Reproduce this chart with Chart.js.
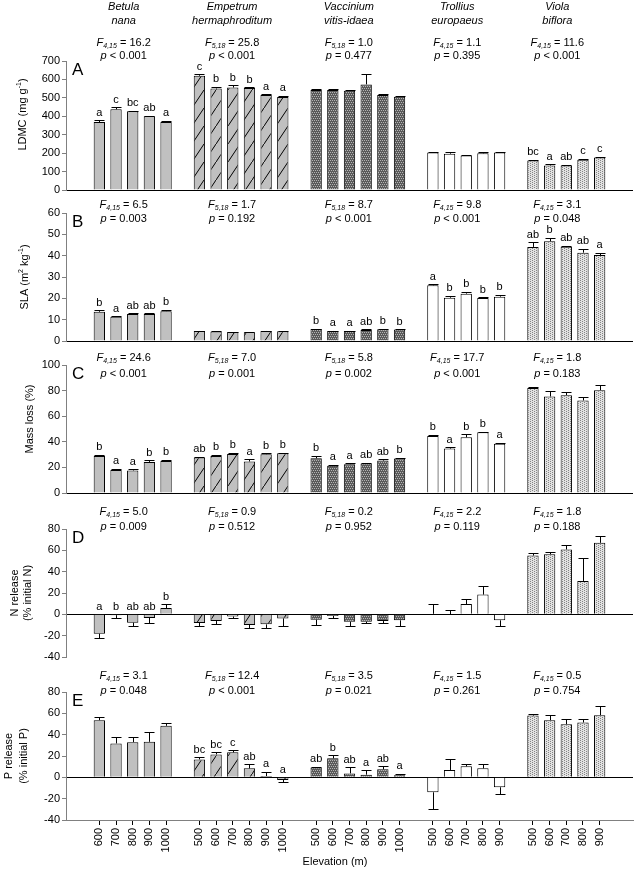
<!DOCTYPE html>
<html lang="en">
<head>
<meta charset="UTF-8">
<title>Leaf litter traits along elevation</title>
<script src="https://cdn.jsdelivr.net/npm/chart.js@4.4.1/dist/chart.umd.min.js"></script>
<style>
  html, body { margin: 0; padding: 0; background: #fff; }
  #wrap { position: relative; width: 636px; height: 871px; }
  #wrap canvas { position: absolute; left: 0; top: 0; }
</style>
</head>
<body>
<div id="wrap">
  <canvas id="panelA" width="636" height="871"></canvas>
  <canvas id="panelB" width="636" height="871"></canvas>
  <canvas id="panelC" width="636" height="871"></canvas>
  <canvas id="panelD" width="636" height="871"></canvas>
  <canvas id="panelE" width="636" height="871"></canvas>
</div>
<script>
// species and the elevations sampled for each
const speciesNames = [['Betula', 'nana'], ['Empetrum', 'hermaphroditum'], ['Vaccinium', 'vitis-idaea'], ['Trollius', 'europaeus'], ['Viola', 'biflora']];
const elevBetula = ['600', '700', '800', '900', '1000'];
const elevEmpetrum = ['500', '600', '700', '800', '900', '1000'];
const elevVaccinium = ['500', '600', '700', '800', '900', '1000'];
const elevTrollius = ['500', '600', '700', '800', '900'];
const elevViola = ['500', '600', '700', '800', '900'];
const dfs = ['4,15', '5,18', '5,18', '4,15', '4,15'];

// A - LDMC (mg g-1)
const ldmcMean = [369, 438, 428, 400, 369, 620, 551, 556, 553, 516, 505, 542, 542, 538, 573, 516, 506, 203, 197, 187, 199, 204, 160, 133, 133, 164, 176];
const ldmcSE = [9, 12, 3, 3, 8, 7, 10, 12, 4, 5, 6, 7, 7, 3, 54, 3, 3, 3, 10, 3, 5, 3, 5, 7, 4, 5, 4];
const ldmcLetters = ['a', 'c', 'bc', 'ab', 'a', 'c', 'b', 'b', 'b', 'a', 'a', '', '', '', '', '', '', '', '', '', '', '', 'bc', 'a', 'ab', 'c', 'c'];
const ldmcF = ['16.2', '25.8', '1.0', '1.1', '11.6'];
const ldmcP = ['< 0.001', '< 0.001', '= 0.477', '= 0.395', '< 0.001'];

// B - SLA (m2 kg-1)
const slaMean = [13.7, 11.4, 12.7, 12.7, 14.0, 4.7, 4.5, 4.2, 4.1, 4.7, 4.6, 5.6, 4.7, 4.7, 5.2, 5.5, 5.4, 26.1, 20.3, 22.2, 20.1, 20.8, 44.1, 46.7, 44.2, 41.4, 40.3];
const slaSE = [0.7, 0.3, 0.3, 0.3, 0.6, 0.2, 0.2, 0.2, 0.2, 0.2, 0.2, 0.2, 0.2, 0.2, 0.2, 0.2, 0.2, 0.4, 1.0, 0.8, 0.5, 0.8, 2.3, 1.8, 0.4, 1.8, 1.0];
const slaLetters = ['b', 'a', 'ab', 'ab', 'b', '', '', '', '', '', '', 'b', 'a', 'a', 'ab', 'b', 'b', 'a', 'b', 'b', 'b', 'b', 'ab', 'b', 'ab', 'ab', 'a'];
const slaF = ['6.5', '1.7', '8.7', '9.8', '3.1'];
const slaP = ['= 0.003', '= 0.192', '< 0.001', '< 0.001', '= 0.048'];

// C - mass loss (%)
const massMean = [29, 18, 17.6, 24.3, 25, 27.7, 29, 30.5, 24.6, 30.3, 31, 27.1, 21.2, 22.5, 23, 25.3, 26.9, 44.5, 34.7, 43.5, 47.4, 38.5, 82, 75.4, 76.4, 72.3, 80.3];
const massSE = [0.8, 1, 0.8, 1.5, 1, 0.6, 1, 1, 1.6, 0.6, 0.6, 2, 1, 0.6, 0.6, 1, 0.6, 1.2, 1.2, 2.6, 0.4, 0.8, 1, 4, 2.5, 2.5, 4];
const massLetters = ['b', 'a', 'a', 'b', 'b', 'ab', 'b', 'b', 'a', 'b', 'b', 'b', 'a', 'a', 'ab', 'ab', 'b', 'b', 'a', 'b', 'b', 'a', '', '', '', '', ''];
const massF = ['24.6', '7.0', '5.8', '17.7', '1.8'];
const massP = ['< 0.001', '= 0.001', '= 0.002', '< 0.001', '= 0.183'];

// D - N release (% initial N)
const nMean = [-18.2, -0.8, -7.8, -3.4, 5.9, -8.1, -6.3, -2.0, -10, -9.4, -3.8, -5, -1.5, -6.9, -6.9, -6.3, -5.6, 0.5, 0, 9.7, 18.5, -5.6, 55.1, 56.4, 60.8, 31.3, 67];
const nSE = [4, 2.3, 3.5, 5, 3.5, 2.6, 3, 1, 2.5, 3, 7, 5.3, 1.5, 4.5, 0.8, 1.8, 5, 9.2, 4.4, 4.7, 7.8, 5.4, 2.5, 2, 3.8, 21.6, 6];
const nLetters = ['a', 'b', 'ab', 'ab', 'b', '', '', '', '', '', '', '', '', '', '', '', '', '', '', '', '', '', '', '', '', '', ''];
const nF = ['5.0', '0.9', '0.2', '2.2', '1.8'];
const nP = ['= 0.009', '= 0.512', '= 0.952', '= 0.119', '= 0.188'];

// E - P release (% initial P)
const pMean = [53.6, 31.8, 33, 33.3, 48.3, 16.8, 21.5, 23.4, 8.4, 1.2, -2.5, 9.3, 17.8, 3.7, 2.5, 7.5, 1.9, -14, 6.9, 10.3, 8.4, -9.3, 57.9, 53.6, 49.8, 51.4, 58.3];
const pSE = [3.4, 6.2, 5, 8.8, 2.2, 2.2, 2.2, 2.1, 4, 4.1, 1.9, 0.5, 2.8, 6, 4, 2.8, 1.5, 15.9, 10.5, 1.8, 4.1, 6, 1.9, 4.7, 5.3, 3.7, 8.4];
const pLetters = ['', '', '', '', '', 'bc', 'bc', 'c', 'ab', 'a', 'a', 'ab', 'b', 'ab', 'a', 'ab', 'a', '', '', '', '', '', '', '', '', '', ''];
const pF = ['3.1', '12.4', '3.5', '1.5', '0.5'];
const pP = ['= 0.048', '< 0.001', '= 0.021', '= 0.261', '= 0.754'];

const FONT = "'Liberation Sans', Arial, sans-serif";

// build the x slots: two blanks on each side, one blank between species
const groups = [elevBetula, elevEmpetrum, elevVaccinium, elevTrollius, elevViola];
const slotLabels = ['', ''];
const slotGroup = [-1, -1];
const slotOfBar = [];
groups.forEach((g, gi) => {
    if (gi > 0) { slotLabels.push(''); slotGroup.push(-1); }
    g.forEach(e => { slotOfBar.push(slotLabels.length); slotLabels.push(e); slotGroup.push(gi); });
});
slotLabels.push('', '');
slotGroup.push(-1, -1);

function toSlots(arr) {
    const out = new Array(slotLabels.length).fill(null);
    slotOfBar.forEach((s, i) => { out[s] = arr[i]; });
    return out;
}

// fill patterns
function makePattern(w, h, paint) {
    const c = document.createElement('canvas');
    c.width = w; c.height = h;
    const g = c.getContext('2d');
    paint(g);
    return g.createPattern(c, 'repeat');
}
const hatch = makePattern(12, 18, g => {
    g.fillStyle = '#c0c0c0'; g.fillRect(0, 0, 12, 18);
    g.strokeStyle = '#000'; g.lineWidth = 1;
    g.beginPath(); g.moveTo(0, 18); g.lineTo(12, 0); g.stroke();
});
const checker = makePattern(4, 4, g => {
    g.fillStyle = '#5a5a5a'; g.fillRect(0, 0, 4, 4);
    g.fillStyle = '#b4b4b4';
    [[0, 0], [2, 0], [1, 2], [3, 2]].forEach(p => g.fillRect(p[0], p[1], 1, 1));
});
const stipple = makePattern(4, 4, g => {
    g.fillStyle = '#e2e2e2'; g.fillRect(0, 0, 4, 4);
    g.fillStyle = '#858585';
    [[0, 0], [2, 1], [0, 2], [2, 3]].forEach(p => g.fillRect(p[0], p[1], 1, 1));
});
const fills = ['#c0c0c0', hatch, checker, '#ffffff', stipple];
const slotFill = slotGroup.map(g => g < 0 ? 'rgba(0,0,0,0)' : fills[g]);

// little rich-text helper for italics, sub- and superscripts
function setFont(ctx, size, italic) { ctx.font = (italic ? 'italic ' : '') + size + 'px ' + FONT; }
function richWidth(ctx, segs) {
    let w = 0;
    segs.forEach(s => { setFont(ctx, s.sub || s.sup ? 7 : 11, s.it); w += ctx.measureText(s.t).width; });
    return w;
}
function drawRich(ctx, segs, cx, cy) {
    let x = cx - richWidth(ctx, segs) / 2;
    ctx.textAlign = 'left';
    ctx.textBaseline = 'middle';
    ctx.fillStyle = '#000';
    segs.forEach(s => {
        setFont(ctx, s.sub || s.sup ? 7 : 11, s.it);
        const dy = s.sub ? 3 : (s.sup ? -4 : 0);
        ctx.fillText(s.t, x, cy + dy);
        x += ctx.measureText(s.t).width;
    });
}

const panels = [
    { id: 'panelA', letter: 'A', mean: ldmcMean, se: ldmcSE, letters: ldmcLetters, F: ldmcF, P: ldmcP,
      min: 0, max: 700, step: 100, top: 61, bottom: 190, statY: [43, 56], species: true,
      title: [[{ t: 'LDMC (mg g' }, { t: '-1', sup: true }, { t: ')' }]], titleX: [23], titleShift: -11 },
    { id: 'panelB', letter: 'B', mean: slaMean, se: slaSE, letters: slaLetters, F: slaF, P: slaP,
      min: 0, max: 60, step: 10, top: 213, bottom: 341, statY: [205, 219],
      title: [[{ t: 'SLA (m' }, { t: '2', sup: true }, { t: ' kg' }, { t: '-1', sup: true }, { t: ')' }]], titleX: [25], titleShift: 0 },
    { id: 'panelC', letter: 'C', mean: massMean, se: massSE, letters: massLetters, F: massF, P: massP,
      min: 0, max: 100, step: 20, top: 365, bottom: 493, statY: [358, 374],
      title: [[{ t: 'Mass loss (%)' }]], titleX: [30], titleShift: -10 },
    { id: 'panelD', letter: 'D', mean: nMean, se: nSE, letters: nLetters, F: nF, P: nP,
      min: -40, max: 80, step: 20, top: 529, bottom: 657, statY: [512, 527],
      title: [[{ t: 'N release' }], [{ t: '(% initial N)' }]], titleX: [15, 28], titleShift: 0 },
    { id: 'panelE', letter: 'E', mean: pMean, se: pSE, letters: pLetters, F: pF, P: pP,
      min: -40, max: 80, step: 20, top: 692, bottom: 820, statY: [676, 691], xAxis: true,
      title: [[{ t: 'P release' }], [{ t: '(% initial P)' }]], titleX: [9, 24], titleShift: 0 }
];

function makePlugin(panel) {
    const values = toSlots(panel.mean);
    const errs = toSlots(panel.se);
    const lets = toSlots(panel.letters);
    return {
        id: 'panelExtras',
        afterDatasetsDraw(chart) {
            const ctx = chart.ctx;
            const y = chart.scales.y;
            const meta = chart.getDatasetMeta(0);
            ctx.save();
            ctx.strokeStyle = '#000';
            ctx.lineWidth = 1;
            meta.data.forEach((bar, i) => {
                const v = values[i];
                if (v === null) return;
                const dir = v < 0 ? -1 : 1;
                const x = Math.round(bar.x) + 0.5;
                const yv = y.getPixelForValue(v);
                const ye = Math.round(y.getPixelForValue(v + dir * errs[i])) + 0.5;
                ctx.beginPath();
                ctx.moveTo(x, yv);
                ctx.lineTo(x, ye);
                ctx.moveTo(x - 5, ye);
                ctx.lineTo(x + 5, ye);
                ctx.stroke();
                if (lets[i]) {
                    const topVal = v >= 0 ? v + errs[i] : 0;
                    setFont(ctx, 11, false);
                    ctx.fillStyle = '#000';
                    ctx.textAlign = 'center';
                    ctx.textBaseline = 'bottom';
                    ctx.fillText(lets[i], bar.x, y.getPixelForValue(topVal) - 2);
                }
            });
            ctx.restore();
        },
        afterDraw(chart) {
            const ctx = chart.ctx;
            const x = chart.scales.x;
            const area = chart.chartArea;
            ctx.save();
            // species names and test statistics centred over each group
            let bar = 0;
            groups.forEach((g, gi) => {
                const first = slotOfBar[bar];
                const last = slotOfBar[bar + g.length - 1];
                bar += g.length;
                const cx = (x.getPixelForValue(first) + x.getPixelForValue(last)) / 2 - 9;
                if (panel.species) {
                    drawRich(ctx, [{ t: speciesNames[gi][0], it: true }], cx, 7);
                    drawRich(ctx, [{ t: speciesNames[gi][1], it: true }], cx, 21);
                }
                drawRich(ctx, [{ t: 'F', it: true }, { t: dfs[gi], it: true, sub: true }, { t: ' = ' + panel.F[gi] }], cx, panel.statY[0]);
                drawRich(ctx, [{ t: 'p', it: true }, { t: ' ' + panel.P[gi] }], cx, panel.statY[1]);
            });
            // panel letter
            ctx.fillStyle = '#000';
            ctx.font = '17px ' + FONT;
            ctx.textAlign = 'left';
            ctx.textBaseline = 'top';
            ctx.fillText(panel.letter, area.left + 6, area.top + 1);
            // y axis title
            const cy = (area.top + area.bottom) / 2 + panel.titleShift;
            panel.title.forEach((line, li) => {
                ctx.save();
                ctx.translate(panel.titleX[li], cy);
                ctx.rotate(-Math.PI / 2);
                drawRich(ctx, line, 0, 0);
                ctx.restore();
            });
            if (panel.xAxis) {
                drawRich(ctx, [{ t: 'Elevation (m)' }], 335, 862);
            }
            ctx.restore();
        }
    };
}

panels.forEach(panel => {
    const bottomPad = panel.xAxis ? 871 - panel.bottom - 40 : 871 - panel.bottom;
    new Chart(document.getElementById(panel.id), {
        type: 'bar',
        data: {
            labels: slotLabels,
            datasets: [{
                data: toSlots(panel.mean),
                backgroundColor: slotFill,
                borderColor: '#000',
                borderWidth: 1,
                categoryPercentage: 0.8,
                barPercentage: 0.85
            }]
        },
        options: {
            responsive: false,
            animation: false,
            events: [],
            layout: { padding: { top: panel.top, bottom: bottomPad, left: 0, right: 3 } },
            plugins: { legend: { display: false }, tooltip: { enabled: false } },
            scales: {
                x: {
                    type: 'category',
                    offset: false,
                    display: !!panel.xAxis,
                    ticks: { autoSkip: false, minRotation: 90, maxRotation: 90, padding: 3, color: '#000', font: { family: FONT, size: 11 } },
                    grid: {
                        offset: false,
                        drawOnChartArea: false,
                        tickLength: 5,
                        tickColor: c => (c.tick && c.tick.label) ? '#000' : 'rgba(0,0,0,0)'
                    },
                    border: { color: '#808080' },
                    afterFit: s => {
                        if (panel.xAxis) { s.height = 40; }
                        s.paddingLeft = 0;
                        s.paddingRight = 0;
                    }
                },
                y: {
                    min: panel.min,
                    max: panel.max,
                    ticks: { stepSize: panel.step, autoSkip: false, padding: 2, color: '#000', font: { family: FONT, size: 11 } },
                    grid: {
                        color: c => (c.tick && c.tick.value === 0) ? '#000' : 'rgba(0,0,0,0)',
                        tickColor: '#808080',
                        tickLength: 4
                    },
                    border: { color: '#808080' },
                    afterFit: s => { s.width = 66; }
                }
            }
        },
        plugins: [makePlugin(panel)]
    });
});
</script>
</body>
</html>
